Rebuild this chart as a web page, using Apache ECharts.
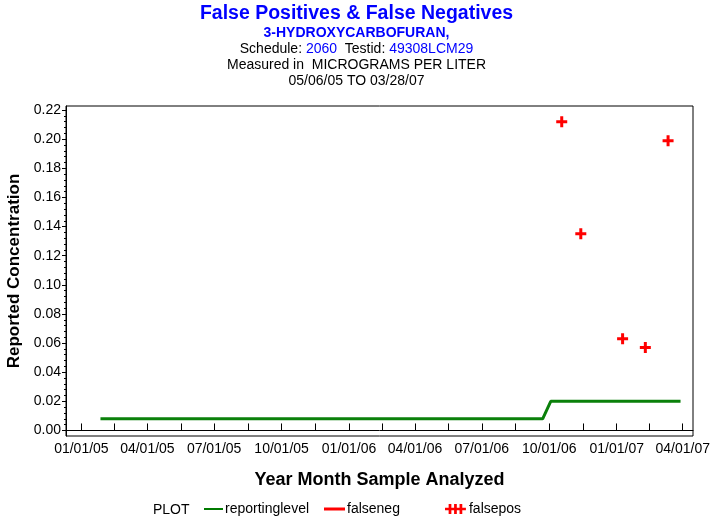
<!DOCTYPE html>
<html>
<head>
<meta charset="utf-8">
<script src="https://cdn.jsdelivr.net/npm/echarts@6/dist/echarts.min.js"></script>
<style>
html,body{margin:0;padding:0;background:#fff;}
#chart{width:713px;height:523px;}
</style>
</head>
<body>
<div id="chart"></div>
<script>
// ---- data ----
const reportingDates = ['2005-01-27', '2006-09-22', '2006-10-03', '2007-03-29'];
const reportingValues = [0.008, 0.008, 0.02, 0.02];
const falsePosDates = ['2006-10-18', '2006-11-13', '2007-01-09', '2007-02-09', '2007-03-12'];
const falsePosValues = [0.212, 0.135, 0.063, 0.057, 0.199];
const falseNegDates = [];
const falseNegValues = [];
const xTickDates = ['2005-01-01', '2005-04-01', '2005-07-01', '2005-10-01', '2006-01-01',
  '2006-04-01', '2006-07-01', '2006-10-01', '2007-01-01', '2007-04-01'];
const yTickValues = [0, 0.02, 0.04, 0.06, 0.08, 0.10, 0.12, 0.14, 0.16, 0.18, 0.20, 0.22];
const yMinorStep = 0.004;

const FONT = '"Liberation Sans", Arial, Helvetica, sans-serif';
const ts = d => new Date(d + 'T00:00:00Z').getTime();
const xTickTs = xTickDates.map(ts);
const xAllTicks = [];
for (let i = 0; i < xTickTs.length; i++) {
  xAllTicks.push(xTickTs[i]);
  if (i < xTickTs.length - 1) xAllTicks.push((xTickTs[i] + xTickTs[i + 1]) / 2);
}
const yMinor = [];
for (let k = 0; k <= Math.round(0.22 / yMinorStep); k++) yMinor.push(+(k * yMinorStep).toFixed(4));
const fmtDate = v => {
  const d = new Date(v);
  const p = n => String(n).padStart(2, '0');
  return p(d.getUTCMonth() + 1) + '/' + p(d.getUTCDate()) + '/' + p(d.getUTCFullYear() % 100);
};
const plusPath = 'path://M4,0h3v4h4v3h-4v4h-3v-4h-4v-3h4z';
const triplePlus = 'path://M4,0h3v4h3v-4h3v4h3v-4h3v4h4v3h-4v4h-3v-4h-3v4h-3v-4h-3v4h-3v-4h-4v-3h4z';

const chart = echarts.init(document.getElementById('chart'), null, {renderer: 'canvas'});
const xMin = ts('2004-12-11'), xMax = ts('2007-04-15');
const yMin = -0.0038, yMax = 0.2228;
const legText = {fontFamily: FONT, fontSize: 14, color: '#000', padding: [0, 0, 0, -3]};

chart.setOption({
  animation: false,
  backgroundColor: '#fff',
  title: [{
    text: 'False Positives & False Negatives',
    left: 'center', top: -1,
    textStyle: {fontFamily: FONT, fontSize: 19.5, fontWeight: 'bold', color: '#0000ff'}
  }, {
    text: '3-HYDROXYCARBOFURAN,',
    left: 'center', top: 21,
    textStyle: {fontFamily: FONT, fontSize: 14, fontWeight: 'bold', color: '#0000ff'}
  }, {
    text: '{k|Schedule: }{v|2060}{k|  Testid: }{v|49308LCM29}',
    left: 'center', top: 37,
    textStyle: {fontFamily: FONT, fontSize: 14, fontWeight: 'normal', rich: {
      k: {fontFamily: FONT, fontSize: 14, fontWeight: 'normal', color: '#000'},
      v: {fontFamily: FONT, fontSize: 14, fontWeight: 'normal', color: '#0000ff'}
    }}
  }, {
    text: 'Measured in  MICROGRAMS PER LITER',
    left: 'center', top: 53,
    textStyle: {fontFamily: FONT, fontSize: 14, fontWeight: 'normal', color: '#000'}
  }, {
    text: '05/06/05 TO 03/28/07',
    left: 'center', top: 69,
    textStyle: {fontFamily: FONT, fontSize: 14, fontWeight: 'normal', color: '#000'}
  }, {
    text: 'PLOT',
    left: 148, top: 498,
    textStyle: {fontFamily: FONT, fontSize: 14, fontWeight: 'normal', color: '#000'}
  }],
  legend: [{
    data: [{name: 'reportinglevel', icon: 'rect'}],
    left: 199, top: 497, itemWidth: 19, itemHeight: 2, itemGap: 0,
    itemStyle: {color: '#007a00'},
    textStyle: legText, selectedMode: false
  }, {
    data: [{name: 'falseneg', icon: 'rect'}],
    left: 319, top: 497, itemWidth: 21, itemHeight: 3, itemGap: 0,
    textStyle: legText, selectedMode: false
  }, {
    data: [{name: 'falsepos', icon: triplePlus}],
    left: 440, top: 497, itemWidth: 23, itemHeight: 10, itemGap: 0,
    textStyle: legText, selectedMode: false
  }],
  grid: {
    left: 66, top: 106, right: 20, bottom: 87,
    show: true, borderColor: '#000', borderWidth: 1,
    containLabel: false, outerBoundsMode: 'none'
  },
  xAxis: {
    type: 'value', min: xMin, max: xMax,
    name: 'Year Month Sample Analyzed', nameLocation: 'middle', nameGap: 35,
    nameTextStyle: {fontFamily: FONT, fontSize: 18, fontWeight: 'bold', color: '#000'},
    axisLine: {show: true, lineStyle: {color: '#000', width: 1}},
    axisTick: {show: true, inside: true, length: 7, lineStyle: {color: '#000'}, customValues: xAllTicks},
    axisLabel: {show: true, customValues: xTickTs, formatter: v => fmtDate(v), margin: 6,
      fontFamily: FONT, fontSize: 14, color: '#000', hideOverlap: false},
    splitLine: {show: false}
  },
  yAxis: [{
    type: 'value', min: yMin, max: yMax,
    name: 'Reported Concentration', nameLocation: 'middle', nameGap: 35, nameRotate: 90,
    nameTextStyle: {fontFamily: FONT, fontSize: 17, fontWeight: 'bold', color: '#000'},
    axisLine: {show: true, lineStyle: {color: '#000', width: 1}},
    axisTick: {show: true, inside: false, length: 4, lineStyle: {color: '#000'}, customValues: yTickValues},
    axisLabel: {show: true, customValues: yTickValues, formatter: v => v.toFixed(2), margin: 5,
      fontFamily: FONT, fontSize: 14, color: '#000'},
    splitLine: {show: false}
  }, {
    type: 'value', min: yMin, max: yMax, position: 'left', offset: 0,
    axisLine: {show: false},
    axisTick: {show: true, inside: false, length: 2, lineStyle: {color: '#000'}, customValues: yMinor},
    axisLabel: {show: false},
    splitLine: {show: false}
  }],
  series: [{
    name: 'reportinglevel', type: 'line', yAxisIndex: 0,
    data: reportingDates.map((d, i) => [ts(d), reportingValues[i]]),
    showSymbol: false, symbol: 'none',
    lineStyle: {color: '#0a800a', width: 3},
    itemStyle: {color: '#0a800a'}
  }, {
    name: 'falseneg', type: 'line', yAxisIndex: 0,
    data: falseNegDates.map((d, i) => [ts(d), falseNegValues[i]]),
    showSymbol: false,
    lineStyle: {color: '#ff0000', width: 3},
    itemStyle: {color: '#ff0000'}
  }, {
    name: 'falsepos', type: 'scatter', yAxisIndex: 0,
    data: falsePosDates.map((d, i) => [ts(d), falsePosValues[i]]),
    symbol: plusPath, symbolSize: 11,
    itemStyle: {color: '#ff0000', opacity: 1}
  }]
});
</script>
</body>
</html>
